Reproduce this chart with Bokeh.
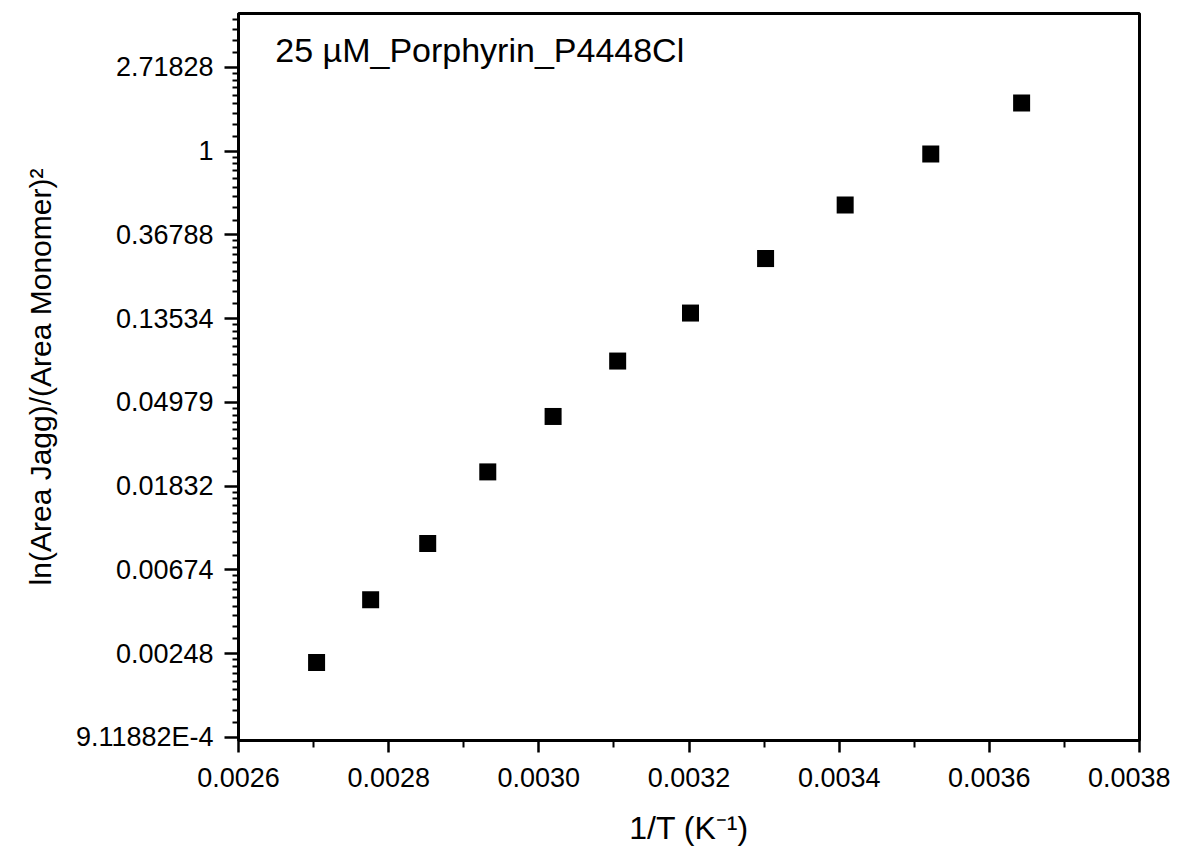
import math
from bokeh.plotting import figure
from bokeh.models import (FixedTicker, CustomJSTickFormatter, PrintfTickFormatter,
                          Range1d, Label)
from bokeh.embed import file_html
from bokeh.resources import INLINE

# ---- data ----
inv_T = [0.002704, 0.002776, 0.002852, 0.002932, 0.003019, 0.003105,
         0.003202, 0.003302, 0.003408, 0.003522, 0.003643]
ratio = [0.002225, 0.004715, 0.009233, 0.02169, 0.04205, 0.08151,
         0.1446, 0.2772, 0.5263, 0.9666, 1.777]

x_ticks = [0.0026, 0.0028, 0.0030, 0.0032, 0.0034, 0.0036, 0.0038]
y_tick_exponents = [-7, -6, -5, -4, -3, -2, -1, 0, 1]
y_tick_labels = ["9.11882E-4", "0.00248", "0.00674", "0.01832", "0.04979",
                 "0.13534", "0.36788", "1", "2.71828"]

title_text = "25 µM_Porphyrin_P4448Cl"
x_label = "1/T (K⁻¹)"
y_label = "ln(Area Jagg)/(Area Monomer)²"

FONT = "Liberation Sans"

# ---- ticks ----
y_major = [math.exp(n) for n in y_tick_exponents]
y_minor = []
for n in range(-7, 2):
    lo, hi = math.exp(n), math.exp(n + 1)
    for k in range(1, 9):
        y_minor.append(lo + k * (hi - lo) / 9.0)
x_minor = [round(v + 0.0001, 5) for v in x_ticks[:-1]]

p = figure(output_backend="svg", toolbar_location=None,
           y_axis_type="log",
           frame_width=901, frame_height=727,
           min_border_left=238, min_border_right=31,
           min_border_top=13, min_border_bottom=100,
           x_range=Range1d(0.0026, 0.0038),
           y_range=Range1d(math.exp(-7.039), math.exp(1.644)))

p.background_fill_color = "white"
p.border_fill_color = "white"
p.xgrid.visible = False
p.ygrid.visible = False
p.outline_line_color = "black"
p.outline_line_width = 3

p.scatter(inv_T, ratio, marker="square", size=17, color="black", line_width=0)

# x axis
xa = p.xaxis[0]
xa.ticker = FixedTicker(ticks=x_ticks, minor_ticks=x_minor)
xa.formatter = PrintfTickFormatter(format="%.4f")
xa.axis_label = x_label

# y axis
ya = p.yaxis[0]
ya.ticker = FixedTicker(ticks=y_major, minor_ticks=y_minor)
ya.formatter = CustomJSTickFormatter(args=dict(vals=y_major, labs=y_tick_labels), code="""
    let best = 0, bd = Infinity;
    for (let i = 0; i < vals.length; i++) {
        const d = Math.abs(Math.log(tick) - Math.log(vals[i]));
        if (d < bd) { bd = d; best = i; }
    }
    return labs[best];
""")
ya.axis_label = y_label

for ax in (xa, ya):
    ax.axis_line_width = 3
    ax.axis_line_color = "black"
    ax.major_tick_line_width = 2.5
    ax.minor_tick_line_width = 2
    ax.major_tick_in = 0
    ax.minor_tick_in = 0
    ax.major_label_text_font = FONT
    ax.major_label_text_font_size = "27px"
    ax.major_label_text_color = "black"
    ax.axis_label_text_font = FONT
    ax.axis_label_text_font_style = "normal"
    ax.axis_label_text_color = "black"

xa.axis_label_text_font_size = "32px"
ya.axis_label_text_font_size = "30px"

xa.major_tick_out = 12
xa.minor_tick_out = 7
xa.major_label_standoff = 15
xa.axis_label_standoff = 20
ya.major_tick_out = 14
ya.minor_tick_out = 6
ya.major_label_standoff = 11
ya.axis_label_standoff = 16

p.add_layout(Label(x=0.002649, y=3.357, text=title_text,
                   text_font=FONT, text_font_size="34px",
                   text_color="black", text_baseline="middle"))

open("out.html", "w").write(file_html(p, INLINE))
